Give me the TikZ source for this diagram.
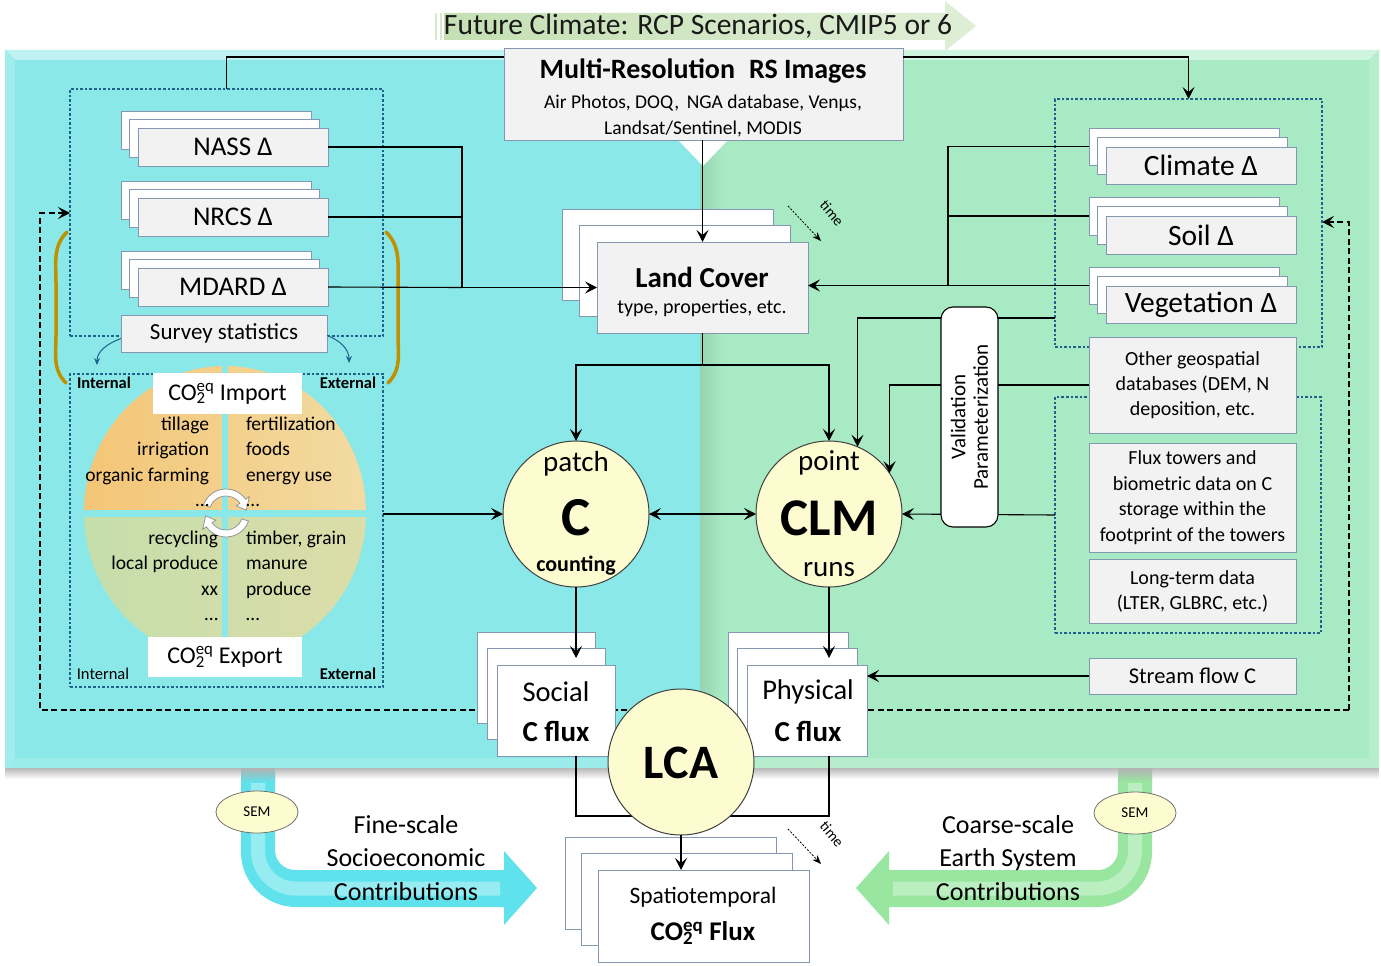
\documentclass[tikz,border=0pt]{standalone}
\usepackage{fontspec}
\setmainfont{Carlito}
\usetikzlibrary{arrows.meta,shadows,shapes.geometric}

\definecolor{panelL}{RGB}{138,232,232}
\definecolor{panelR}{RGB}{168,234,196}
\definecolor{boxfill}{RGB}{242,242,242}
\definecolor{boxline}{RGB}{132,151,176}
\definecolor{dotblue}{RGB}{31,97,141}
\definecolor{gold}{RGB}{191,144,0}
\definecolor{cream}{RGB}{253,251,208}
\definecolor{futgreen}{RGB}{197,224,180}
\definecolor{semcyan}{RGB}{96,226,236}
\definecolor{semgreen}{RGB}{152,230,160}
\definecolor{pieTL}{RGB}{244,197,118}
\definecolor{pieTR}{RGB}{242,219,162}
\definecolor{pieBL}{RGB}{196,222,172}
\definecolor{pieBR}{RGB}{220,221,168}

\newcommand\fs[2]{\fontsize{#1}{#2}\selectfont}
\newcommand\coeq{CO\rlap{\textsubscript{2}}\textsuperscript{eq}}

\tikzset{
  conn/.style={draw=black, line width=1.1pt},
  arr/.style={conn, ->},
  darr/.style={conn, <->},
  dashloop/.style={draw=black, line width=1.5pt, dash pattern=on 6pt off 3.5pt, ->},
  timearr/.style={draw=black, line width=0.8pt, dash pattern=on 2pt off 1.5pt, -{Stealth[length=9pt,width=7pt]}},
  smallarr/.style={draw=dotblue, line width=1pt, -{Stealth[length=7pt,width=6pt]}},
  bracket/.style={draw=gold, line width=3.5pt, line cap=round},
  box/.style={draw=boxline, fill=boxfill, line width=1pt, inner sep=0pt, outer sep=0pt, align=center},
  whitebox/.style={box, fill=white},
  plainbox/.style={fill=white, inner sep=0pt, outer sep=0pt, align=center},
  dotbox/.style={draw=dotblue, line width=2.6pt, dash pattern=on 2.6pt off 2pt, inner sep=0pt, outer sep=0pt},
  stackof/.style n args={4}{
    general shadow={shadow xshift=#1, shadow yshift=#2, fill=white, draw=boxline},
    general shadow={shadow xshift=#3, shadow yshift=#4, fill=white, draw=boxline}},
  circ/.style={circle, draw=black!75, fill=cream, line width=1pt, inner sep=0pt, outer sep=0pt},
  valbox/.style={draw=black, fill=white, line width=1.1pt, rounded corners=12pt, inner sep=0pt, outer sep=0pt, align=center},
  sem/.style={ellipse, draw=black!55, fill=cream, line width=0.8pt, minimum width=82pt, minimum height=42pt, font=\fs{15}{17}},
  lbl/.style={inner sep=0pt, outer sep=0pt, text=black},
  cyclearr/.style={fill=white, draw=black!45, line width=0.7pt},
  sheen/.style={draw=white, line width=14pt, opacity=0.35},
}

\begin{document}
\begin{tikzpicture}[x=1pt,y=-1pt,>={Stealth[length=12pt,width=12pt,inset=5pt]}]
\useasboundingbox (0,0) rectangle (1381,966);
\fill[white] (0,0) rectangle (1381,966);

% ---------- future climate banner arrow ----------
\fill[futgreen!70!white] (435,13) rectangle (437,40);
\fill[futgreen!70!white] (439.5,13) rectangle (441.5,40);
\shade[left color=futgreen, right color=futgreen!55!white] (444,13) -- (945,13) -- (945,1) -- (976,26) -- (945,51) -- (945,40) -- (444,40) -- cycle;
\node[lbl, font=\fs{29.5}{32}, text=black!90] (future) at (698,26) {Future Climate: RCP Scenarios, CMIP5 or 6};

% ---------- the two panels ----------
\shade[top color=black!28, bottom color=white] (5,768) rectangle (1379,779);
\fill[panelL] (5,50) rectangle (700,768);
\fill[panelR] (700,50) rectangle (1379,768);
\fill[panelL!55!white] (5,50) -- (700,50) -- (700,60) -- (15,60) -- cycle;
\fill[panelL!80!white] (5,50) -- (15,60) -- (15,758) -- (5,768) -- cycle;
\fill[panelL!85!white] (5,768) -- (15,758) -- (700,758) -- (700,768) -- cycle;
\fill[panelR!55!white] (700,50) -- (1379,50) -- (1369,60) -- (700,60) -- cycle;
\fill[panelR!85!white] (1379,50) -- (1369,60) -- (1369,758) -- (1379,768) -- cycle;
\fill[panelR!85!white] (700,768) -- (700,758) -- (1369,758) -- (1379,768) -- cycle;
\shade[left color=panelR!90!black, right color=panelR] (700,60) rectangle (722,758);

% ---------- SEM bent arrows ----------
\fill[semcyan] (241,768) -- (241,852) arc[start angle=180,end angle=270,radius=55pt] -- (504,907) -- (504,925) -- (537,888) -- (504,851) -- (504,870) -- (295,870) arc[start angle=270,end angle=180,radius=20pt] -- (275,768) -- cycle;
\draw[sheen] (258,782) -- (258,851) arc[start angle=180,end angle=270,radius=37.5pt] -- (500,888.5);
\shade[top color=black!30, bottom color=semcyan] (241,768) rectangle (275,782);
\fill[semgreen] (1152,768) -- (1152,852) arc[start angle=0,end angle=-90,radius=55pt] -- (889,907) -- (889,925) -- (856,888) -- (889,851) -- (889,870) -- (1098,870) arc[start angle=-90,end angle=0,radius=20pt] -- (1118,768) -- cycle;
\draw[sheen] (1135,782) -- (1135,851) arc[start angle=0,end angle=-90,radius=37.5pt] -- (893,888.5);
\shade[top color=black!30, bottom color=semgreen] (1118,768) rectangle (1152,782);

% ---------- internal / external pie ----------
\shade[left color=pieTL, right color=pieTR] (84,513) arc[start angle=180,end angle=0,x radius=141pt,y radius=147pt] -- cycle;
\shade[left color=pieBL, right color=pieBR] (84,513) arc[start angle=180,end angle=360,x radius=141pt,y radius=147pt] -- cycle;
\draw[panelL, line width=6pt] (225,362) -- (225,664);
\draw[panelL, line width=7pt] (80,513) -- (370,513);
\begin{scope}[shift={(226,513)}]
  \filldraw[cyclearr] (160:24pt) arc[start angle=160,end angle=35,radius=24pt] -- (35:28.5pt) -- (8:20.5pt) -- (35:12.5pt) -- (35:17pt) arc[start angle=35,end angle=160,radius=17pt] -- cycle;
  \filldraw[cyclearr] (-20:24pt) arc[start angle=-20,end angle=-145,radius=24pt] -- (-145:28.5pt) -- (-172:20.5pt) -- (-145:12.5pt) -- (-145:17pt) arc[start angle=-145,end angle=-20,radius=17pt] -- cycle;
\end{scope}

% ---------- feedback loop (dashed) ----------
\coordinate (dl) at (40,710);
\coordinate (dr) at (1349,710);
\coordinate (lfb) at (70,213);
\coordinate (rfb) at (1322,222);
\draw[dashloop] (dr) -- (dl) |- (lfb);
\draw[dashloop] (dr) |- (rfb);

% ---------- gold brackets ----------
\draw[bracket] (67,232) to[out=225,in=90] (56,282) -- (56,335) to[out=-90,in=135] (66,383);
\draw[bracket] (386,232) to[out=-45,in=90] (398,282) -- (398,335) to[out=-90,in=45] (388,383);

% ---------- dotted groups ----------
\node[dotbox, minimum width=313pt, minimum height=247pt] (leftdot) at (226.5,212.5) {};
\node[dotbox, minimum width=313pt, minimum height=313pt] (lowdot) at (226.5,530.5) {};
\node[dotbox, minimum width=267pt, minimum height=248pt] (rightdot) at (1188.5,223) {};
\node[dotbox, minimum width=266pt, minimum height=236pt] (lowrightdot) at (1188,515) {};

% ---------- left column ----------
\node[box, font=\fs{27}{30}, minimum width=190pt, minimum height=38pt, stackof={-17pt}{17pt}{-8.5pt}{8.5pt}] (nass) at (233,147) {NASS Δ};
\node[box, font=\fs{27}{30}, minimum width=190pt, minimum height=38pt, stackof={-17pt}{17pt}{-8.5pt}{8.5pt}] (nrcs) at (233,217) {NRCS Δ};
\node[box, font=\fs{27}{30}, minimum width=190pt, minimum height=38pt, stackof={-17pt}{17pt}{-8.5pt}{8.5pt}] (mdard) at (233,287) {MDARD Δ};
\node[box, font=\fs{23}{26}, minimum width=206pt, minimum height=37pt] (survey) at (224,333.5) {Survey statistics};
\draw[smallarr] ([yshift=-5pt]survey.west) to[out=200,in=90] (97,365);
\draw[smallarr] ([yshift=-2pt]survey.east) to[out=-20,in=90] (349,363);

\node[plainbox, font=\fs{24}{26}, minimum width=149pt, minimum height=41pt] (import) at (227.5,393.5) {\coeq\ Import};
\node[plainbox, font=\fs{24}{26}, minimum width=154pt, minimum height=40pt] (export) at (225,657) {\coeq\ Export};
\node[lbl, font=\fs{16.5}{18}\bfseries] (intA) at (104,383) {Internal};
\node[lbl, font=\fs{16.5}{18}\bfseries] (extA) at (348,383) {External};
\node[lbl, font=\fs{16.5}{18}] (intB) at (103,674) {Internal};
\node[lbl, font=\fs{16.5}{18}\bfseries] (extB) at (348,674) {External};

\foreach \t [count=\i] in {tillage,irrigation,organic farming,\ldots}
  \node[lbl, anchor=mid east, font=\fs{19.5}{22}] (tl\i) at (209,{428+25.5*(\i-1)}) {\t};
\foreach \t [count=\i] in {fertilization,foods,energy use,\ldots}
  \node[lbl, anchor=mid west, font=\fs{19.5}{22}] (tr\i) at (246,{428+25.5*(\i-1)}) {\t};
\foreach \t [count=\i] in {recycling,local produce,xx,\ldots}
  \node[lbl, anchor=mid east, font=\fs{19.5}{22}] (bl\i) at (218,{542+25.5*(\i-1)}) {\t};
\foreach \t [count=\i] in {{timber, grain},manure,produce,\ldots}
  \node[lbl, anchor=mid west, font=\fs{19.5}{22}] (br\i) at (246,{542+25.5*(\i-1)}) {\t};

% ---------- centre column ----------
\fill[white] (678,140) -- (728,140) -- (703,166) -- cycle;
\node[box, minimum width=399pt, minimum height=91pt] (rs) at (703.5,94.5) {};
\node[lbl, font=\fs{28}{30}\bfseries] (rs-title) at (703,71) {Multi-Resolution\enspace RS Images};
\node[lbl, font=\fs{19.5}{25.5}, align=center] (rs-sub) at (703,116) {Air Photos, DOQ,\, NGA database, Venμs,\\Landsat/Sentinel, MODIS};

\node[box, minimum width=211pt, minimum height=91pt, stackof={-35pt}{33pt}{-17.5pt}{16.5pt}] (lc) at (702.5,287.5) {};
\node[lbl, font=\fs{29}{31}\bfseries] (lc-title) at (702,277) {Land Cover};
\node[lbl, font=\fs{20}{22}] (lc-sub) at (702,308) {type, properties, etc.};
\draw[timearr] (788,206) -- (821,241);
\node[lbl, font=\fs{15}{17}, rotate=-50] (time1) at (832,213) {time};

\node[circ, minimum size=146pt] (patch) at (576,514) {};
\node[lbl, font=\fs{29}{31}] (patch-t1) at (576,464) {patch};
\node[lbl, font=\fs{55}{57}\bfseries] (patch-t2) at (576,518) {C};
\node[lbl, font=\fs{22}{24}\bfseries] (patch-t3) at (576,566) {counting};

\node[circ, minimum size=146pt] (clm) at (829,514) {};
\node[lbl, font=\fs{29}{31}] (clm-t1) at (829,463) {point};
\node[lbl, font=\fs{53}{55}\bfseries] (clm-t2) at (829,518) {CLM};
\node[lbl, font=\fs{29}{31}] (clm-t3) at (829,570) {runs};

\node[whitebox, minimum width=118pt, minimum height=91pt, stackof={-20pt}{33pt}{-10pt}{16.5pt}] (social) at (556,710.5) {};
\node[lbl, font=\fs{28.5}{30}] (social-t1) at (556,692) {Social};
\node[lbl, font=\fs{29}{30}\bfseries] (social-t2) at (556,731) {C flux};
\node[whitebox, minimum width=120pt, minimum height=91pt, stackof={-19pt}{33pt}{-9.5pt}{16.5pt}] (physical) at (807,710.5) {};
\node[lbl, font=\fs{28.5}{30}] (physical-t1) at (808,692) {Physical};
\node[lbl, font=\fs{29}{30}\bfseries] (physical-t2) at (808,731) {C flux};

\node[whitebox, minimum width=211pt, minimum height=92pt, stackof={-33pt}{33pt}{-16.5pt}{16.5pt}] (spatio) at (703.5,916) {};
\node[lbl, font=\fs{23.5}{26}] (spatio-t1) at (703,897) {Spatiotemporal};
\node[lbl, font=\fs{27}{29}\bfseries] (spatio-t2) at (703,933) {\coeq\ Flux};
\draw[timearr] (788,829) -- (821,864);
\node[lbl, font=\fs{15}{17}, rotate=-50] (time2) at (832,834) {time};

% ---------- right column ----------
\node[box, font=\fs{29.5}{32}, minimum width=190pt, minimum height=37pt, stackof={-17pt}{19pt}{-8.5pt}{9.5pt}] (climate) at (1201,165.5) {Climate Δ};
\node[box, font=\fs{29.5}{32}, minimum width=190pt, minimum height=38pt, stackof={-17pt}{19pt}{-8.5pt}{9.5pt}] (soil) at (1201,235) {Soil Δ};
\node[box, font=\fs{29.5}{32}, minimum width=190pt, minimum height=37pt, stackof={-17pt}{19pt}{-8.5pt}{9.5pt}] (veg) at (1201,304.5) {Vegetation Δ};
\node[box, font=\fs{20}{25}, minimum width=207pt, minimum height=96pt] (other) at (1192.5,385) {Other geospatial\\databases (DEM, N\\deposition, etc.};
\node[box, font=\fs{20}{25.5}, minimum width=207pt, minimum height=109pt] (flux) at (1192.5,497.5) {Flux towers and\\biometric data on C\\storage within the\\footprint of the towers};
\node[box, font=\fs{20}{25}, minimum width=207pt, minimum height=64pt] (longterm) at (1192.5,591) {Long-term data\\(LTER, GLBRC, etc.)};
\node[box, font=\fs{22.5}{25}, minimum width=207pt, minimum height=36pt] (stream) at (1192.5,676) {Stream flow C};

% ---------- connectors ----------
\coordinate (topline) at (0,57);
\draw[conn] (rs.west |- topline) -| (leftdot.north);
\draw[arr] (rs.east |- topline) -| (rightdot.north);
\draw[arr] (lc.north |- rs.south) -- (lc.north);

\coordinate (lbus) at (462,287.5);
\draw[conn] (nass.east) -| (lbus);
\draw[conn] (nrcs.east) -| (lbus);
\draw[conn] (mdard.east) -- (lbus);
\draw[arr, line width=1.8pt] (lbus) -- (lc.west);

\coordinate (rbus) at (948,285.5);
\coordinate (climate-b) at ([xshift=-17pt,yshift=19pt]climate.west);
\coordinate (soil-b) at ([xshift=-17pt,yshift=19pt]soil.west);
\coordinate (veg-b) at ([xshift=-17pt,yshift=19pt]veg.west);
\draw[conn] (climate-b) -| (rbus);
\draw[conn] (soil-b) -| (rbus);
\draw[arr] (veg-b) -- (veg-b -| lc.east);

\coordinate (split) at (702.5,365);
\draw[conn] (lc.south) -- (split);
\draw[arr] (split) -| (patch.north);
\draw[arr] (split) -| (clm.north);

\coordinate (vp1) at (1055,318);
\draw[arr] (vp1) -| (clm.67);
\draw[arr] (other.west) -| (clm.34);
\draw[arr] (lowrightdot.west) -- (clm.east);

\draw[darr] (patch.east) -- (clm.west);
\draw[arr] (lowdot.east |- patch.west) -- (patch.west);
\draw[arr, shorten >=7pt] (patch.south) -- (patch.south |- social.north);
\draw[arr, shorten >=7pt] (clm.south) -- (clm.south |- physical.north);
\draw[arr] (stream.west) -- (stream.west -| physical.east);

\coordinate (lcaj) at (681,816);
\draw[conn] (social.south -| patch.south) |- (lcaj) -| (physical.south -| clm.south);

\node[valbox, minimum width=220pt, minimum height=57pt, rotate=90, font=\fs{21}{22.5}] (valid) at (969.5,417) {Validation\\Parameterization};

\node[circ, minimum size=146pt] (lca) at (681,762) {};
\node[lbl, font=\fs{48}{50}\bfseries] (lca-t) at (681,763) {LCA};
\draw[arr] (lca.south) -- (lca.south |- spatio.north);

% ---------- SEM labels and captions ----------
\node[sem] (sem-l) at (257,812) {SEM};
\node[sem] (sem-r) at (1135,813) {SEM};
\node[lbl, font=\fs{26}{33.5}, align=center] (fine) at (406,858) {Fine-scale\\Socioeconomic\\Contributions};
\node[lbl, font=\fs{26}{33.5}, align=center] (coarse) at (1008,858) {Coarse-scale\\Earth System\\Contributions};

\end{tikzpicture}
\end{document}
